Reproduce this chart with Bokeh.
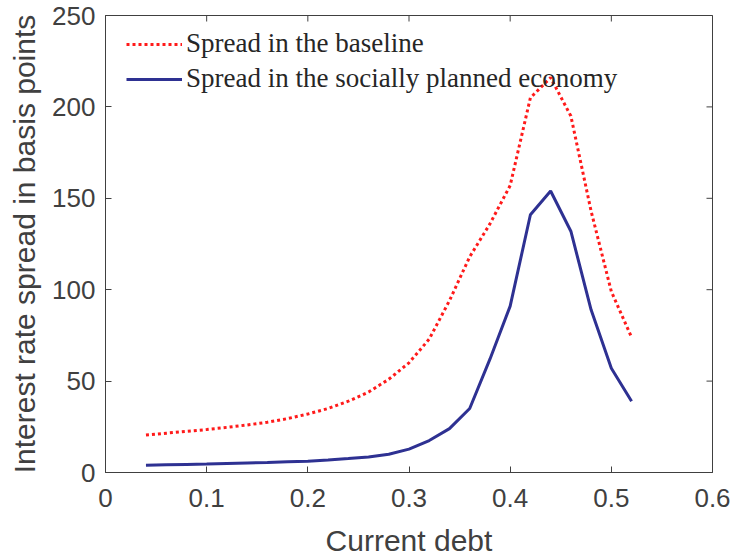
import math
from bokeh.plotting import figure
from bokeh.models import Range1d, FixedTicker, Legend, LegendItem
from bokeh.embed import file_html
from bokeh.resources import INLINE

# data
debt = [0.04, 0.06, 0.08, 0.10, 0.12, 0.14, 0.16, 0.18, 0.20, 0.22, 0.24, 0.26, 0.28,
        0.30, 0.32, 0.34, 0.36, 0.38, 0.40, 0.42, 0.44, 0.46, 0.48, 0.50, 0.52]
spread_baseline = [20.5, 21.5, 22.5, 23.5, 24.7, 26.0, 27.5, 29.5, 32.0, 35.0, 39.0, 44.0, 51.0,
                   60.0, 73.0, 94.0, 118.0, 136.0, 157.0, 205.0, 216.0, 195.0, 143.0, 99.0, 74.0]
spread_planner = [4.0, 4.2, 4.4, 4.6, 4.9, 5.2, 5.5, 5.9, 6.2, 6.8, 7.6, 8.5, 10.0,
                  12.8, 17.5, 24.0, 35.0, 62.0, 91.0, 141.0, 154.0, 132.0, 89.0, 57.0, 39.0]
x_ticks = [0, 0.1, 0.2, 0.3, 0.4, 0.5, 0.6]
x_tick_labels = ["0", "0.1", "0.2", "0.3", "0.4", "0.5", "0.6"]
y_ticks = [0, 50, 100, 150, 200, 250]
x_limits = [0, 0.6]
y_limits = [0, 250]
series_names = ["Spread in the baseline", "Spread in the socially planned economy"]

AX = "#404040"
TICKFONT = "Liberation Sans"

p = figure(width=733, height=559, output_backend="svg", toolbar_location=None,
           x_range=Range1d(*x_limits), y_range=Range1d(*y_limits))
p.min_border_left = 105
p.min_border_right = 21
p.min_border_top = 15
p.min_border_bottom = 87
p.grid.visible = False
p.outline_line_color = AX
p.outline_line_width = 1
p.background_fill_color = "white"
p.border_fill_color = "white"

for ax, ticks in ((p.xaxis[0], x_ticks), (p.yaxis[0], y_ticks)):
    ax.ticker = FixedTicker(ticks=ticks)
    ax.axis_line_color = AX
    ax.major_tick_line_color = AX
    ax.major_tick_in = 6
    ax.major_tick_out = 0
    ax.minor_tick_line_color = None
    ax.major_label_text_color = AX
    ax.major_label_text_font = TICKFONT
    ax.major_label_text_font_size = "26px"
    ax.axis_label_text_color = AX
    ax.axis_label_text_font = TICKFONT
    ax.axis_label_text_font_size = "30px"
    ax.axis_label_text_font_style = "normal"

p.xaxis[0].major_label_overrides = {t: s for t, s in zip(x_ticks, x_tick_labels)}
p.xaxis[0].axis_label = "Current debt"
p.yaxis[0].axis_label = "Interest rate spread in basis points"
p.xaxis[0].major_label_standoff = 16
p.yaxis[0].major_label_standoff = 10
p.xaxis[0].axis_label_standoff = 14
p.yaxis[0].axis_label_standoff = 8

# inward ticks on the top and right edges of the box (clipped to the frame)
p.scatter(x_ticks, [y_limits[1]] * len(x_ticks), marker="dash", angle=math.pi / 2,
          size=12, line_color=AX, line_width=1)
p.scatter([x_limits[1]] * len(y_ticks), y_ticks, marker="dash",
          size=12, line_color=AX, line_width=1)

r1 = p.line(debt, spread_baseline, line_color="#ff1a1a", line_width=3, line_dash="3 3")
r2 = p.line(debt, spread_planner, line_color="#2e3192", line_width=3)

legend = Legend(items=[LegendItem(label=series_names[0], renderers=[r1]),
                       LegendItem(label=series_names[1], renderers=[r2])],
                location=(21, 378))
legend.border_line_alpha = 0
legend.background_fill_alpha = 0
legend.label_text_font = "Liberation Serif"
legend.label_text_font_size = "27px"
legend.label_text_color = "#262626"
legend.glyph_width = 56
legend.glyph_height = 28
legend.label_height = 28
legend.spacing = 4
legend.label_standoff = 4
legend.margin = 0
legend.padding = 0
p.add_layout(legend)

open("out.html", "w").write(file_html(p, INLINE))
